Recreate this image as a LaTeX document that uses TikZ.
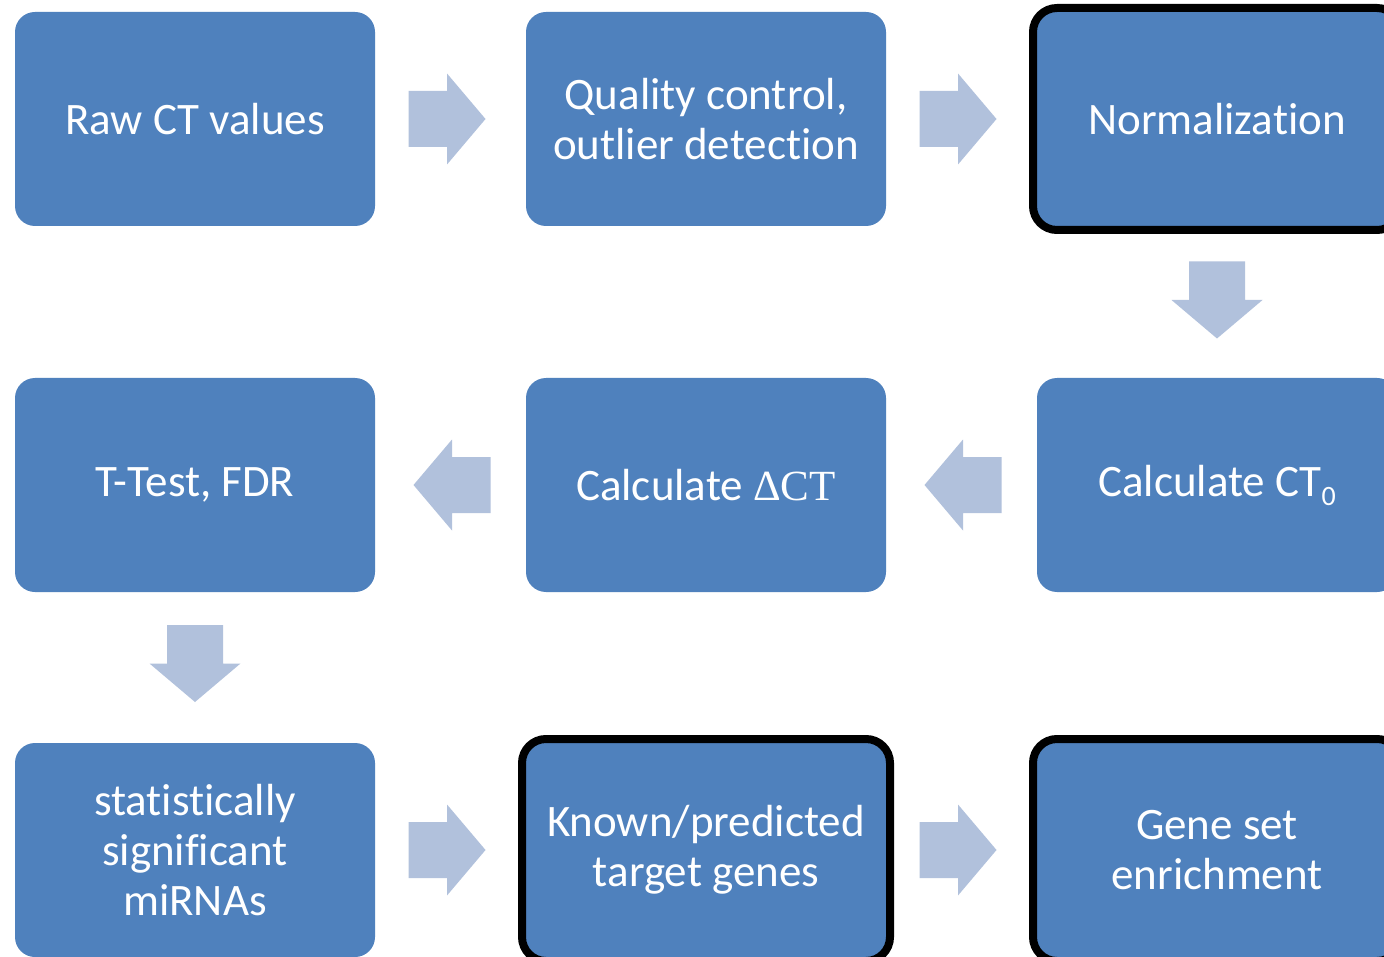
\documentclass[tikz,border=0pt]{standalone}
\usepackage{fontspec}
\usetikzlibrary{calc}
\setmainfont{Carlito}[Ligatures=NoCommon]
\newfontfamily\deltafont{Liberation Serif}
\definecolor{boxblue}{HTML}{4F81BD}
\definecolor{arrowblue}{HTML}{B1C1DC}
\tikzset{
  stepbox/.style={fill=boxblue, rounded corners=20pt, minimum width=360pt, minimum height=214pt,
    text=white, align=center, inner sep=0pt, outer sep=0pt, font=\fontsize{45}{50}\selectfont},
  boldbox/.style={stepbox, draw=black, line width=8pt, rounded corners=24pt,
    minimum width=368pt, minimum height=222pt},
  blockarrow/.pic={\fill[arrowblue] (-38.5,-28) -- (0,-28) -- (0,-45.5) -- (38.5,0) -- (0,45.5) -- (0,28) -- (-38.5,28) -- cycle;}
}
\begin{document}
\begin{tikzpicture}[x=1pt,y=-1pt]
\clip (0,0) rectangle (1384,957);
\fill[white] (0,0) rectangle (1384,957);
% row 1
\node[stepbox] (raw) at (195,119) {Raw CT values};
\node[stepbox] (qc) at (706,119) {Quality control,\\outlier detection};
\node[boldbox] (norm) at (1217,119) {Normalization};
% row 2
\node[stepbox] (ct0) at (1217,485) {Calculate CT\raisebox{-9pt}{\fontsize{28}{28}\selectfont 0}};
\node[stepbox] (dct) at (706,485) {Calculate {\deltafont\fontsize{43}{50}\selectfont ΔCT}};
\node[stepbox] (ttest) at (195,485) {T-Test, FDR};
% row 3
\node[stepbox] (sig) at (195,850) {statistically\\significant\\miRNAs};
\node[boldbox] (targ) at (706,850) {Known/predicted\\target genes};
\node[boldbox] (gse) at (1217,850) {Gene set\\enrichment};
% block arrows
\path ($(raw.east)!0.5!(qc.west)$) ++(-3.5,0) pic {blockarrow};
\path ($(qc.east)!0.5!(norm.west)$) ++(-1.5,0) pic {blockarrow};
\path ($(norm.south)!0.5!(ct0.north)$) ++(0,-4) pic[rotate=-90] {blockarrow};
\path ($(ct0.west)!0.5!(dct.east)$) ++(1.5,0) pic[rotate=180] {blockarrow};
\path ($(dct.west)!0.5!(ttest.east)$) ++(1.5,0) pic[rotate=180] {blockarrow};
\path ($(ttest.south)!0.5!(sig.north)$) ++(0,-4) pic[rotate=-90] {blockarrow};
\path ($(sig.east)!0.5!(targ.west)$) ++(-1.5,0) pic {blockarrow};
\path ($(targ.east)!0.5!(gse.west)$) ++(-3.5,0) pic {blockarrow};
\end{tikzpicture}
\end{document}
